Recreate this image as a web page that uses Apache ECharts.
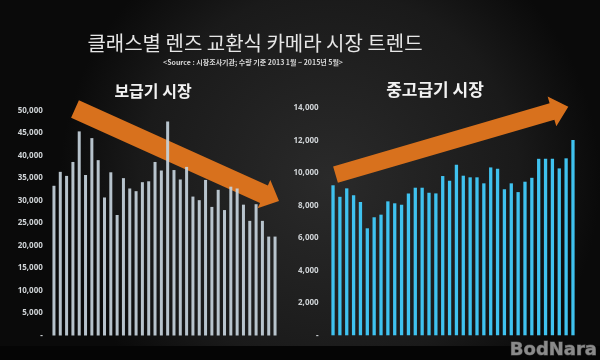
<!DOCTYPE html>
<html>
<head>
<meta charset="utf-8">
<script src="https://cdn.jsdelivr.net/npm/echarts@6/dist/echarts.min.js"></script>
<style>
html,body{margin:0;padding:0;background:#111;}
#chart{width:600px;height:360px;}
</style>
</head>
<body>
<div id="chart"></div>
<script>
// ---- data ----
const categories = [
  '2012-06','2012-07','2012-08','2012-09','2012-10','2012-11','2012-12',
  '2013-01','2013-02','2013-03','2013-04','2013-05','2013-06','2013-07','2013-08','2013-09','2013-10','2013-11','2013-12',
  '2014-01','2014-02','2014-03','2014-04','2014-05','2014-06','2014-07','2014-08','2014-09','2014-10','2014-11','2014-12',
  '2015-01','2015-02','2015-03','2015-04','2015-05'
];
const entryMarket = [
  33300, 36400, 35500, 38600, 45400, 35700, 43900, 39000, 30700, 36300, 26800, 35000,
  32700, 32100, 34100, 34300, 38600, 36700, 47600, 36800, 34700, 37500, 30900, 30100,
  34600, 28600, 32400, 27900, 33100, 32700, 29100, 25500, 29200, 25500, 22000, 22000
];
const premiumMarket = [
  9240, 8530, 9050, 8620, 8210, 6590, 7270, 7430, 8250, 8130, 8040, 8740,
  9090, 9090, 8780, 8740, 9810, 9520, 10500, 9830, 9730, 9730, 9360, 10340,
  10260, 8990, 9360, 8820, 9460, 9700, 10870, 10870, 10870, 10280, 10900, 12030
];
const leftTicks = { min: 0, max: 50000, interval: 5000 };
const rightTicks = { min: 0, max: 14000, interval: 2000 };
const titleText = '클래스별 렌즈 교환식 카메라 시장 트렌드';
const subtitleText = '<Source : 시장조사기관; 수량 기준 2013 1월 ~ 2015년 5월>';
const leftLabel = '보급기 시장';
const rightLabel = '중고급기 시장';

// ---- helpers ----
function fmt(v){ return v === 0 ? '-' : v.toLocaleString('en-US'); }
function arrow(x0, y0, x1, y1, hw, headHw, headLen){
  const dx = x1 - x0, dy = y1 - y0, L = Math.hypot(dx, dy);
  const ux = dx / L, uy = dy / L, nx = -uy, ny = ux;
  const bx = x1 - ux * headLen, by = y1 - uy * headLen;
  return [
    [x0 + nx * hw, y0 + ny * hw],
    [bx + nx * hw, by + ny * hw],
    [bx + nx * headHw, by + ny * headHw],
    [x1, y1],
    [bx - nx * headHw, by - ny * headHw],
    [bx - nx * hw, by - ny * hw],
    [x0 - nx * hw, y0 - ny * hw]
  ];
}

const chart = echarts.init(document.getElementById('chart'), null, { renderer: 'canvas' });
const axisFont = { color: '#cfd3d6', fontSize: 8, fontWeight: 'bold', fontFamily: 'Open Sans, Noto Sans, sans-serif' };
const orange = '#d8711d';

chart.setOption({
  backgroundColor: {
    type: 'radial', x: 0.55, y: 0.5, r: 0.75,
    colorStops: [{ offset: 0, color: '#2a2a2a' }, { offset: 0.7, color: '#1a1a1a' }, { offset: 1, color: '#0a0a0a' }]
  },
  animation: false,
  grid: [
    { left: 50.8, width: 227.4, top: 110.7, bottom: 24.5 },
    { left: 329.6, width: 246.8, top: 108, bottom: 24.7 }
  ],
  xAxis: [
    { type: 'category', gridIndex: 0, data: categories, show: false },
    { type: 'category', gridIndex: 1, data: categories, show: false }
  ],
  yAxis: [
    { type: 'value', gridIndex: 0, min: leftTicks.min, max: leftTicks.max, interval: leftTicks.interval,
      axisLine: { show: false }, axisTick: { show: false }, splitLine: { show: false },
      axisLabel: Object.assign({ formatter: fmt, margin: 8 }, axisFont) },
    { type: 'value', gridIndex: 1, min: rightTicks.min, max: rightTicks.max, interval: rightTicks.interval,
      axisLine: { show: false }, axisTick: { show: false }, splitLine: { show: false },
      axisLabel: Object.assign({ formatter: fmt, margin: 11 }, axisFont) }
  ],
  series: [
    { type: 'bar', xAxisIndex: 0, yAxisIndex: 0, data: entryMarket, barWidth: 3, z: 5,
      itemStyle: { color: '#c6d3dc', opacity: 0.92 } },
    { type: 'bar', xAxisIndex: 1, yAxisIndex: 1, data: premiumMarket, barWidth: 3.3, z: 5,
      itemStyle: { color: '#3fc2ef' } }
  ],
  graphic: [
    { type: 'rect', shape: { x: 0, y: 346, width: 600, height: 14 }, style: { fill: '#050505' }, z: -1 },
    { type: 'polygon', shape: { points: arrow(75, 109, 279, 201, 9.5, 15.5, 16.5) }, style: { fill: orange }, z: 1 },
    { type: 'polygon', shape: { points: arrow(335.5, 174.7, 568.3, 106.7, 8.5, 15.5, 17) }, style: { fill: orange }, z: 1 },
    { type: 'text', x: 255, y: 43, style: { text: titleText, fill: '#e6e6e6', font: '20px "Noto Sans CJK KR"', letterSpacing: 1, textAlign: 'center', textVerticalAlign: 'middle' } },
    { type: 'text', x: 253, y: 62, style: { text: subtitleText, fill: '#d8d8d8', font: 'bold 7px "Noto Sans CJK KR"', textAlign: 'center', textVerticalAlign: 'middle' } },
    { type: 'text', x: 153, y: 91, style: { text: leftLabel, fill: '#f2f2f2', font: 'bold 16px "Noto Sans CJK KR"', textAlign: 'center', textVerticalAlign: 'middle' } },
    { type: 'text', x: 435, y: 90, style: { text: rightLabel, fill: '#f2f2f2', font: 'bold 17px "Noto Sans CJK KR"', textAlign: 'center', textVerticalAlign: 'middle' } },
    { type: 'text', x: 597, y: 350, style: { text: 'BodNara', fill: '#8a8a8a', stroke: '#4a4a4a', lineWidth: 1, font: 'bold 18px "DejaVu Sans"', textAlign: 'right', textVerticalAlign: 'middle' } }
  ]
});
</script>
</body>
</html>
